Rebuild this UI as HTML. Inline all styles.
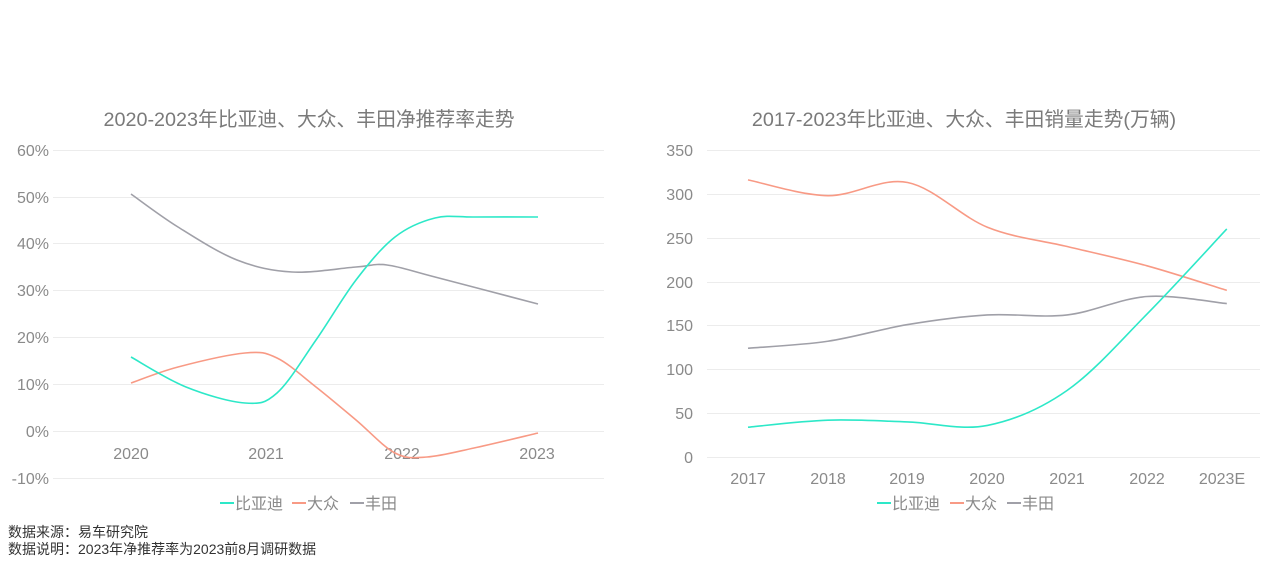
<!DOCTYPE html>
<html><head><meta charset="utf-8"><style>
body{margin:0;background:#fff;width:1268px;height:569px;overflow:hidden;font-family:"Liberation Sans","Noto Sans CJK SC",sans-serif;}
svg text{font-family:"Liberation Sans","Noto Sans CJK SC",sans-serif;}
</style></head><body>
<svg id="s" width="1268" height="569" xmlns="http://www.w3.org/2000/svg">
<g stroke="#ececec" stroke-width="1">
<line x1="53" x2="604" y1="150.5" y2="150.5"/><line x1="53" x2="604" y1="197.5" y2="197.5"/><line x1="53" x2="604" y1="243.5" y2="243.5"/><line x1="53" x2="604" y1="290.5" y2="290.5"/><line x1="53" x2="604" y1="337.5" y2="337.5"/><line x1="53" x2="604" y1="384.5" y2="384.5"/><line x1="53" x2="604" y1="431.5" y2="431.5"/><line x1="53" x2="604" y1="478.5" y2="478.5"/>
<line x1="707" x2="1260" y1="150.5" y2="150.5"/><line x1="707" x2="1260" y1="194.5" y2="194.5"/><line x1="707" x2="1260" y1="238.5" y2="238.5"/><line x1="707" x2="1260" y1="282.5" y2="282.5"/><line x1="707" x2="1260" y1="325.5" y2="325.5"/><line x1="707" x2="1260" y1="369.5" y2="369.5"/><line x1="707" x2="1260" y1="413.5" y2="413.5"/><line x1="707" x2="1260" y1="457.5" y2="457.5"/>
</g>
<g fill="#8a8a8a" font-size="16" text-anchor="end">
<text x="49" y="156">60%</text><text x="49" y="203">50%</text><text x="49" y="249">40%</text><text x="49" y="296">30%</text><text x="49" y="343">20%</text><text x="49" y="390">10%</text><text x="49" y="437">0%</text><text x="49" y="484">-10%</text>
<text x="693" y="156">350</text><text x="693" y="200">300</text><text x="693" y="244">250</text><text x="693" y="288">200</text><text x="693" y="331">150</text><text x="693" y="375">100</text><text x="693" y="419">50</text><text x="693" y="463">0</text>
</g>
<g fill="#8a8a8a" font-size="16" text-anchor="middle">
<text x="131" y="459">2020</text><text x="266" y="459">2021</text><text x="402" y="459">2022</text><text x="537" y="459">2023</text>
<text x="748" y="484">2017</text><text x="828" y="484">2018</text><text x="907" y="484">2019</text><text x="987" y="484">2020</text><text x="1067" y="484">2021</text><text x="1147" y="484">2022</text><text x="1222" y="484">2023E</text>
</g>
<g fill="#7a7a7a" font-size="19.8" text-anchor="middle">
<text x="309" y="126">2020-2023年比亚迪、大众、丰田净推荐率走势</text>
<text x="964" y="126">2017-2023年比亚迪、大众、丰田销量走势(万辆)</text>
</g>
<g id="lines" fill="none" stroke-width="1.6"></g>
<g font-size="16" fill="#8a8a8a">
<line x1="220" x2="234" y1="503" y2="503" stroke="#2de8c8" stroke-width="2"/><text x="235" y="509">比亚迪</text>
<line x1="292" x2="306" y1="503" y2="503" stroke="#f89a85" stroke-width="2"/><text x="307" y="509">大众</text>
<line x1="350" x2="364" y1="503" y2="503" stroke="#a0a0a8" stroke-width="2"/><text x="365" y="509">丰田</text>
<line x1="877" x2="891" y1="503" y2="503" stroke="#2de8c8" stroke-width="2"/><text x="892" y="509">比亚迪</text>
<line x1="950" x2="964" y1="503" y2="503" stroke="#f89a85" stroke-width="2"/><text x="965" y="509">大众</text>
<line x1="1007" x2="1021" y1="503" y2="503" stroke="#a0a0a8" stroke-width="2"/><text x="1022" y="509">丰田</text>
</g>
<g font-size="14" fill="#333">
<text x="8" y="537">数据来源：易车研究院</text>
<text x="8" y="554">数据说明：2023年净推荐率为2023前8月调研数据</text>
</g>
</svg>
<script>
function cr(p){let d="M"+p[0][0]+","+p[0][1];for(let i=0;i<p.length-1;i++){const a=p[i-1]||p[i],b=p[i],c=p[i+1],e=p[i+2]||c;const c1=[b[0]+(c[0]-a[0])/6,b[1]+(c[1]-a[1])/6],c2=[c[0]-(e[0]-b[0])/6,c[1]-(e[1]-b[1])/6];d+=" C"+c1+" "+c2+" "+c;}return d;}
const g=document.getElementById("lines");
function add(p,c){const e=document.createElementNS("http://www.w3.org/2000/svg","path");e.setAttribute("d",cr(p));e.setAttribute("stroke",c);g.appendChild(e);}
add([[131,194],[178,227],[237,260],[292,272],[356,267],[387,265],[435,277],[538,304]],"#a0a0a8");
add([[131,383],[178,367],[245,353],[277,358],[316,387],[356,420],[395,453],[427,457],[474,448],[538,433]],"#f89a85");
add([[131,357],[186,387],[245,403],[277,393],[316,340],[356,280],[395,237],[435,218],[474,217],[538,217]],"#2de8c8");
const X=i=>748+i*79.8,Y=v=>457-v*0.877;
function ser(a){return a.map((v,i)=>[X(i),Y(v)]);}
add(ser([124,132,151,162,162,183,175]),"#a0a0a8");
add(ser([316,298,313,262,240,218,190]),"#f89a85");
add(ser([34,42,40,36,76,163,260]),"#2de8c8");
</script>
</body></html>
